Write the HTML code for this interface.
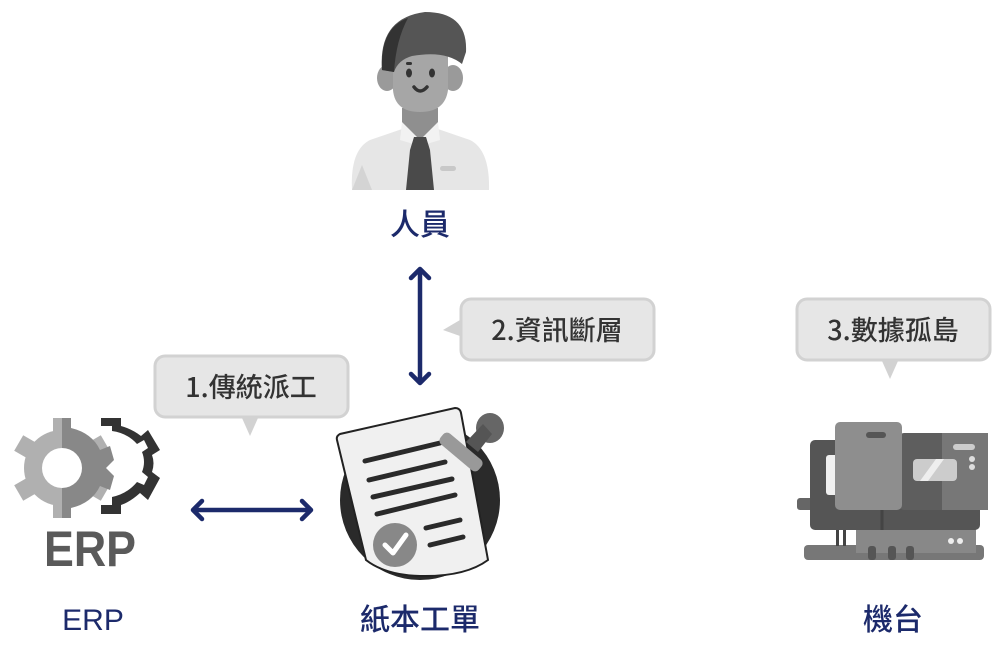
<!DOCTYPE html>
<html><head><meta charset="utf-8"><style>
html,body{margin:0;padding:0;background:#fff;width:1000px;height:672px;overflow:hidden}
svg{display:block}
.lbl{font-family:"Liberation Sans","Noto Sans CJK TC",sans-serif;font-size:30px;fill:#1c2a6b;font-weight:500}
.co{font-family:"Noto Sans CJK TC",sans-serif;font-size:27px;fill:#333;font-weight:500}
</style></head><body>
<svg width="1000" height="672" viewBox="0 0 1000 672" xmlns="http://www.w3.org/2000/svg">
<!-- Person -->
<g>
<path d="M352 190 Q350 150 370 140 L405 128 L435 128 L470 140 Q490 150 489 190 Z" fill="#e6e6e6"/>
<path d="M352 190 L362 165 L372 190Z" fill="#d4d4d4"/>
<rect x="402" y="108" width="36" height="30" fill="#8f8f8f"/>
<path d="M402 122 L420 140 L438 122 L440 140 L420 146 L400 140Z" fill="#f2f2f2"/>
<path d="M414 137 L426 137 L430 150 L434 190 L406 190 L410 150Z" fill="#4a4a4a"/>
<rect x="440" y="166" width="16" height="5" rx="2.5" fill="#c8c8c8"/>
<ellipse cx="387" cy="78" rx="10" ry="13" fill="#9a9a9a"/>
<ellipse cx="453" cy="78" rx="10" ry="13" fill="#9a9a9a"/>
<path d="M393 52 Q393 40 420 40 Q448 40 448 52 L448 90 Q445 112 420 112 Q395 112 393 90Z" fill="#a6a6a6"/>
<path d="M382 70 Q378 18 425 12 Q468 12 466 52 L462 64 Q445 50 412 56 Q398 60 394 72Z" fill="#555"/>
<path d="M382 70 Q380 28 408 18 Q396 40 394 72Z" fill="#333"/>
<rect x="406" y="62" width="6" height="3" rx="1.5" fill="#333"/>
<ellipse cx="409" cy="73" rx="3" ry="4.5" fill="#333"/>
<ellipse cx="432" cy="73" rx="3" ry="4.5" fill="#333"/>
<path d="M414 87 Q420 95 427 87" stroke="#333" stroke-width="3.5" fill="none" stroke-linecap="round"/>
</g>
<text x="420" y="235" text-anchor="middle" class="lbl">人員</text>

<!-- arrows -->
<g stroke="#1c2a6b" stroke-width="4.5" fill="none" stroke-linecap="round" stroke-linejoin="round">
<line x1="420" y1="270" x2="420" y2="382"/>
<polyline points="411,278 420,269 429,278"/>
<polyline points="411,374 420,383 429,374"/>
<line x1="194" y1="510" x2="310" y2="510"/>
<polyline points="202,501 193,510 202,519"/>
<polyline points="302,501 311,510 302,519"/>
</g>

<!-- callouts -->
<g fill="#e6e6e6" stroke="#d2d2d2" stroke-width="3">
<rect x="155" y="356" width="193" height="61" rx="10"/>
<rect x="461" y="299" width="193" height="61" rx="10"/>
<rect x="797" y="299" width="193" height="61" rx="10"/>
</g>
<g fill="#d2d2d2">
<path d="M242 418 L258 418 L250 436Z"/>
<path d="M460 320 L460 336 L443 330Z"/>
<path d="M882 361 L898 361 L890 379Z"/>
</g>
<text x="251" y="397" text-anchor="middle" class="co">1.傳統派工</text>
<text x="557" y="340" text-anchor="middle" class="co">2.資訊斷層</text>
<text x="893" y="340" text-anchor="middle" class="co">3.數據孤島</text>

<!-- ERP gears -->
<g>
<g transform="translate(62,468)">
<g fill="#b0b0b0">
<circle r="38"/>
<rect x="-9" y="-50" width="18" height="100"/>
<rect x="-9" y="-50" width="18" height="100" transform="rotate(60)"/>
<rect x="-9" y="-50" width="18" height="100" transform="rotate(120)"/>
</g>
<path d="M0 -50 L0 50 L9 50 L9 40 Q30 35 38 18 L48 22 L52 8 L44 0 L52 -8 L48 -22 L38 -18 Q30 -35 9 -40 L9 -50Z" fill="#888"/>
<circle r="20" fill="#fff"/>
</g>
<path d="M101 418 L121 418 L121 426 Q132 429 141 436 L148 430 L160 450 L152 455 Q155 463 152 472 L160 478 L148 500 L140 493 Q130 502 121 505 L121 514 L101 514 L101 505 L112 505 L112 497 Q127 494 137 482 L144 485 L148 477 L142 472 Q146 462 142 452 L148 448 L144 440 L137 444 Q127 433 112 431 L112 426 L101 426Z" fill="#333"/>
<text x="44" y="566" font-family="Liberation Sans Narrow,Liberation Sans,sans-serif" font-weight="bold" font-size="50" fill="#5a5a5a" textLength="92" lengthAdjust="spacingAndGlyphs">ERP</text>
</g>
<text x="93" y="630" text-anchor="middle" class="lbl">ERP</text>

<!-- document -->
<g>
<circle cx="420" cy="500" r="80" fill="#2a2a2a"/>
<path d="M337 440 Q336 436 340 434 L455 408 Q460 408 461 413 L488 560 Q465 577 420 576 Q385 575 366 560 Z" fill="#f0f0f0" stroke="#222" stroke-width="2"/>
<g stroke="#2a2a2a" stroke-width="5" stroke-linecap="round">
<line x1="365" y1="461" x2="440" y2="443"/>
<line x1="369" y1="480" x2="445" y2="462"/>
<line x1="373" y1="497" x2="452" y2="479"/>
<line x1="377" y1="514" x2="455" y2="495"/>
<line x1="426" y1="528" x2="460" y2="520"/>
<line x1="430" y1="545" x2="463" y2="537"/>
</g>
<circle cx="395" cy="545" r="22" fill="#888"/>
<path d="M385 545 L393 553 L406 535" stroke="#fff" stroke-width="5" fill="none" stroke-linecap="round" stroke-linejoin="round"/>
<ellipse cx="490" cy="428" rx="14" ry="15" fill="#666"/>
<path d="M466 442 L483 424 L492 434 L478 452Z" fill="#555"/>
<rect x="436" y="445" width="50" height="14" rx="5" fill="#999" transform="rotate(40 461 452)"/>
</g>
<text x="420" y="630" text-anchor="middle" class="lbl">紙本工單</text>

<!-- machine -->
<g>
<rect x="804" y="545" width="180" height="15" rx="4" fill="#777"/>
<rect x="856" y="528" width="120" height="25" fill="#888"/>
<circle cx="951" cy="541" r="3" fill="#eee"/><circle cx="960" cy="541" r="3" fill="#eee"/>
<rect x="868" y="546" width="8" height="14" rx="3" fill="#555"/>
<rect x="888" y="546" width="8" height="14" rx="3" fill="#555"/>
<rect x="906" y="546" width="8" height="14" rx="3" fill="#555"/>
<rect x="836" y="528" width="3" height="18" fill="#444"/><rect x="843" y="528" width="3" height="18" fill="#444"/>
<rect x="797" y="498" width="16" height="12" rx="3" fill="#666"/>
<rect x="810" y="440" width="170" height="90" rx="5" fill="#555"/>
<rect x="826" y="455" width="12" height="40" rx="3" fill="#f0f0f0"/>
<rect x="900" y="433" width="88" height="77" rx="4" fill="#5e5e5e"/>
<rect x="942" y="433" width="46" height="77" fill="#777"/>
<rect x="953" y="444" width="22" height="6" rx="3" fill="#ccc"/>
<circle cx="972" cy="459" r="3" fill="#ddd"/><circle cx="972" cy="467" r="3" fill="#ddd"/>
<rect x="913" y="459" width="44" height="22" rx="4" fill="#ccc"/>
<path d="M920 481 L936 459 L944 459 L928 481Z" fill="#eee"/>
<rect x="835" y="422" width="67" height="88" rx="5" fill="#8e8e8e"/>
<rect x="866" y="432" width="20" height="6" rx="3" fill="#555"/>
<line x1="882" y1="510" x2="882" y2="530" stroke="#444" stroke-width="3"/>
</g>
<text x="893" y="630" text-anchor="middle" class="lbl">機台</text>
</svg>
</body></html>
